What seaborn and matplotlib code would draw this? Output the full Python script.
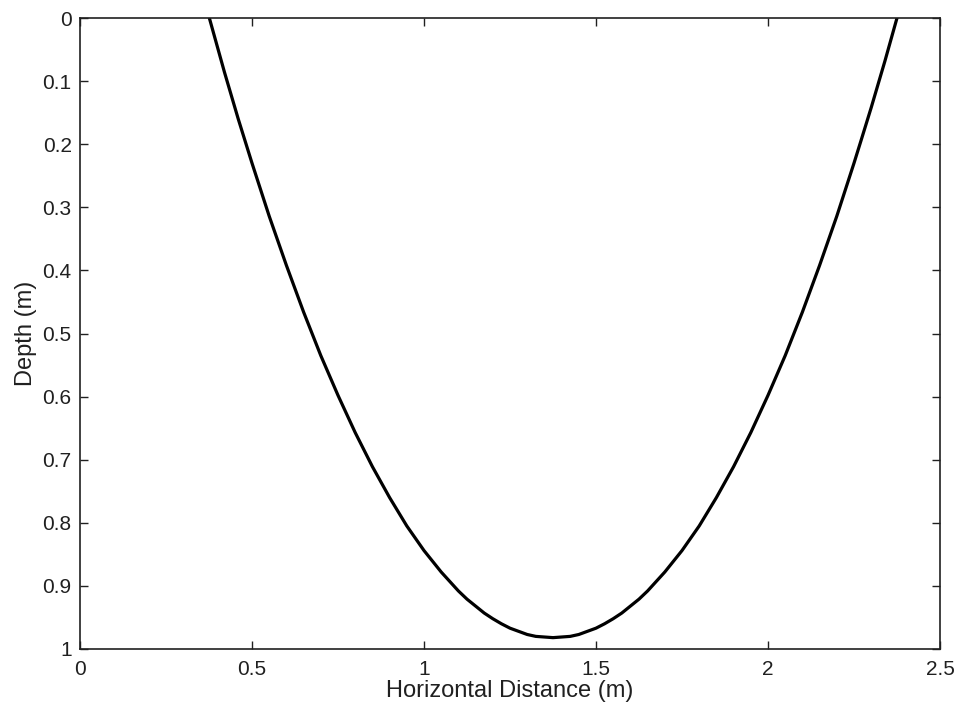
import matplotlib
matplotlib.use("Agg")
import matplotlib.pyplot as plt
import seaborn as sns
import pandas as pd

# Horizontal position (m) and depth (m) along the profile
distance = [0.376, 0.42, 0.46, 0.50, 0.55, 0.60, 0.65, 0.70, 0.75, 0.80,
            0.85, 0.90, 0.95, 1.00, 1.05, 1.10, 1.125, 1.15, 1.175, 1.20,
            1.225, 1.25, 1.275, 1.30, 1.325, 1.35, 1.375, 1.40, 1.425, 1.45,
            1.475, 1.50, 1.525, 1.55, 1.575, 1.60, 1.625, 1.65, 1.70, 1.75,
            1.80, 1.85, 1.90, 1.95, 2.00, 2.05, 2.10, 2.15, 2.20, 2.25,
            2.27, 2.30, 2.34, 2.375]
depth = [0.000, 0.086, 0.160, 0.230, 0.314, 0.392, 0.466, 0.535, 0.598, 0.657,
         0.711, 0.760, 0.805, 0.844, 0.878, 0.908, 0.921, 0.932, 0.943, 0.952,
         0.960, 0.967, 0.972, 0.977, 0.980, 0.981, 0.982, 0.981, 0.980, 0.977,
         0.972, 0.967, 0.960, 0.952, 0.943, 0.932, 0.921, 0.908, 0.878, 0.844,
         0.805, 0.760, 0.711, 0.657, 0.598, 0.535, 0.466, 0.392, 0.314, 0.230,
         0.195, 0.142, 0.068, 0.000]

x_ticks = [0, 0.5, 1, 1.5, 2, 2.5]
x_tick_labels = ["0", "0.5", "1", "1.5", "2", "2.5"]
y_ticks = [0, 0.1, 0.2, 0.3, 0.4, 0.5, 0.6, 0.7, 0.8, 0.9, 1]
y_tick_labels = ["0", "0.1", "0.2", "0.3", "0.4", "0.5", "0.6", "0.7", "0.8", "0.9", "1"]

df = pd.DataFrame({"distance": distance, "depth": depth})

sns.set_style("white")
plt.rcParams["font.family"] = ["Liberation Sans", "DejaVu Sans"]

fig = plt.figure(figsize=(9.57, 7.11), dpi=100)
ax = fig.add_axes([80 / 957, 1 - 649 / 711, 860 / 957, 631 / 711])

sns.lineplot(data=df, x="distance", y="depth", sort=False, color="black",
             linewidth=2.3, ax=ax, estimator=None)

ax.set_xlim(0, 2.5)
ax.set_ylim(1, 0)
ax.set_xticks(x_ticks)
ax.set_xticklabels(x_tick_labels)
ax.set_yticks(y_ticks)
ax.set_yticklabels(y_tick_labels)

ax.tick_params(direction="in", length=6, width=1.0, color="#202020",
               top=True, right=True, bottom=True, left=True,
               labelsize=15, labelcolor="#202020", pad=6)
ax.tick_params(axis="x", pad=8)
for side in ["top", "right", "bottom", "left"]:
    ax.spines[side].set_visible(True)
    ax.spines[side].set_color("#202020")
    ax.spines[side].set_linewidth(1.2)

ax.set_xlabel("Horizontal Distance (m)", fontsize=17, color="#202020", labelpad=1)
ax.set_ylabel("Depth (m)", fontsize=17, color="#202020", labelpad=4)
ax.grid(False)

fig.savefig("out.png", dpi=100, facecolor="white")
